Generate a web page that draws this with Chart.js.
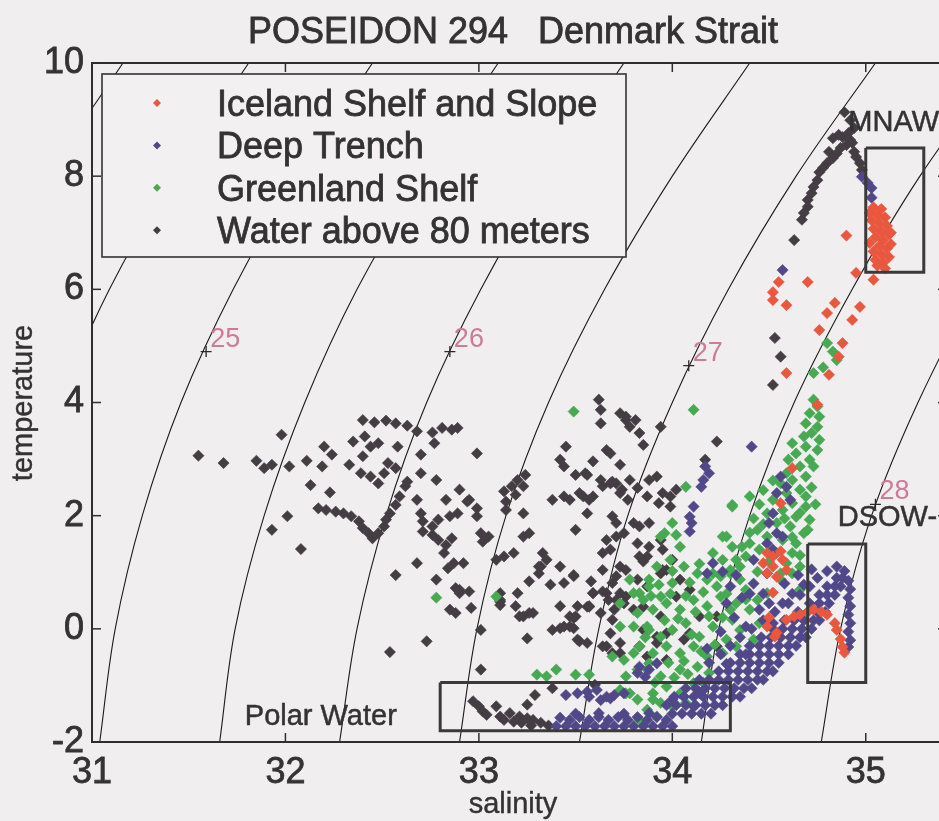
<!DOCTYPE html>
<html>
<head>
<meta charset="utf-8">
<title>POSEIDON 294 Denmark Strait</title>
<script src="https://cdn.jsdelivr.net/npm/chart.js@4/dist/chart.umd.min.js"></script>
<style>
  html, body { margin: 0; padding: 0; background: #f0eeee; overflow: hidden; }
  canvas { display: block; }
</style>
</head>
<body>
<canvas id="ts" width="960" height="821"></canvas>
<script>
// ---- axes ----
const salinityTicks = [31, 32, 33, 34, 35];
const temperatureTicks = [-2, 0, 2, 4, 6, 8, 10];

// ---- isopycnals (sigma-t), salinity at each temperature ----
const sigmaLevels = [24, 24.5, 25, 25.5, 26, 26.5, 27, 27.5, 28];
const isopycnalTemps = [-2, 0, 2, 4, 6, 8, 10];
const isopycnalSalinity = [
  [29.80, 29.87, 30.00, 30.19, 30.45, 30.77, 31.16],
  [30.42, 30.49, 30.63, 30.83, 31.09, 31.42, 31.81],
  [31.04, 31.12, 31.26, 31.46, 31.73, 32.06, 32.45],
  [31.66, 31.74, 31.89, 32.10, 32.37, 32.71, 33.10],
  [32.28, 32.37, 32.52, 32.73, 33.01, 33.35, 33.75],
  [32.90, 32.99, 33.14, 33.36, 33.65, 34.00, 34.40],
  [33.52, 33.62, 33.77, 34.00, 34.29, 34.64, 35.05],
  [34.15, 34.24, 34.40, 34.63, 34.93, 35.28, 35.70],
  [34.77, 34.87, 35.03, 35.27, 35.57, 35.92, 36.35]
];
const labelledLevels = [25, 26, 27, 28];
const labelAnchors = [[31.59, 4.90], [32.85, 4.90], [34.085, 4.65], [35.05, 2.20]];

// ---- water mass boxes: [S min, S max, T min, T max] ----
const polarWaterBox = [32.8, 34.3, -1.8, -0.95];
const dsowBox = [34.7, 35.0, -0.95, 1.5];
const mnawBox = [35.0, 35.3, 6.3, 8.5];

// ---- observations [salinity, temperature] ----
const icelandShelf = [
  [35.04,7.45],[35.08,7.42],[35.02,7.35],[35.06,7.32],[35.10,7.27],[35.03,7.22],[35.07,7.17],[35.11,7.12],
  [35.04,7.07],[35.08,7.02],[35.12,6.97],[35.05,6.92],[35.09,6.87],[35.02,6.82],[35.07,6.77],[35.11,6.72],
  [35.04,6.67],[35.08,6.62],[35.12,6.57],[35.05,6.52],[35.09,6.47],[35.06,6.42],[35.10,6.37],[35.13,7.00],[35.13,6.80],
  [35.04,6.17],[34.95,6.29],[34.90,6.95],[34.70,6.13],[34.55,6.13],[34.52,5.95],[34.52,5.81],[34.59,5.72],
  [34.84,5.76],[34.97,5.69],[34.80,5.58],[34.93,5.46],[34.76,5.28],[34.88,5.05],[34.86,4.81],[34.81,4.49],
  [34.59,4.52],[34.75,3.96],[34.62,2.84],[34.56,2.22],
  [34.49,1.34],[34.52,1.28],[34.56,1.37],[34.57,1.22],[34.47,1.16],[34.52,1.10],[34.59,1.04],[34.49,0.98],[34.54,0.92],
  [34.52,0.64],[34.49,0.04],[34.54,-0.07],[34.50,0.20],[34.53,-0.14],
  [34.59,0.16],[34.63,0.22],[34.66,0.25],[34.70,0.30],[34.73,0.34],[34.77,0.30],[34.80,0.25],
  [34.84,0.10],[34.85,-0.02],[34.87,-0.18],[34.88,-0.32],[34.89,-0.42]
];

const deepTrench = [
  [33.40,-1.72],[33.45,-1.72],[33.50,-1.72],[33.55,-1.72],[33.60,-1.72],[33.65,-1.72],[33.70,-1.72],
  [33.75,-1.72],[33.80,-1.72],[33.85,-1.72],[33.90,-1.72],[33.95,-1.72],[34.00,-1.72],
  [33.42,-1.57],[33.47,-1.61],[33.52,-1.56],[33.57,-1.61],[33.62,-1.56],[33.67,-1.61],[33.72,-1.56],
  [33.77,-1.61],[33.82,-1.56],[33.87,-1.61],[33.92,-1.56],[33.97,-1.61],
  [33.50,-1.50],[33.62,-1.49],[33.75,-1.50],[33.88,-1.49],
  [34.00,-1.50],[34.05,-1.50],[34.10,-1.50],[34.15,-1.50],[34.20,-1.50],
  [34.02,-1.35],[34.07,-1.35],[34.12,-1.35],[34.17,-1.35],[34.22,-1.35],[34.26,-1.35],
  [34.06,-1.20],[34.11,-1.20],[34.16,-1.20],[34.21,-1.20],[34.26,-1.20],[34.31,-1.20],[34.35,-1.20],
  [34.12,-1.05],[34.17,-1.05],[34.22,-1.05],[34.27,-1.05],[34.32,-1.05],[34.37,-1.05],[34.41,-1.05],
  [34.19,-0.90],[34.24,-0.90],[34.29,-0.90],[34.34,-0.90],[34.39,-0.90],[34.44,-0.90],[34.47,-0.90],
  [34.24,-0.75],[34.29,-0.75],[34.34,-0.75],[34.39,-0.75],[34.44,-0.75],[34.49,-0.75],[34.52,-0.75],
  [34.30,-0.60],[34.35,-0.60],[34.40,-0.60],[34.45,-0.60],[34.50,-0.60],[34.55,-0.60],
  [34.35,-0.45],[34.40,-0.45],[34.45,-0.45],[34.50,-0.45],[34.55,-0.45],[34.60,-0.45],
  [34.40,-0.30],[34.45,-0.30],[34.50,-0.30],[34.55,-0.30],[34.60,-0.30],[34.64,-0.30],
  [34.46,-0.15],[34.51,-0.15],[34.56,-0.15],[34.61,-0.15],[34.66,-0.15],[34.69,-0.15],
  [34.52,0.00],[34.57,0.00],[34.62,0.00],[34.67,0.00],[34.72,0.00],
  [34.58,0.15],[34.63,0.15],[34.68,0.15],[34.73,0.15],[34.76,0.15],
  [34.65,0.30],[34.70,0.30],[34.75,0.30],[34.79,0.30],
  [34.71,0.45],[34.76,0.45],[34.81,0.45],
  [34.76,0.60],[34.80,0.60],[34.84,0.60],
  [34.80,0.75],[34.84,0.75],[34.87,0.75],
  [34.85,0.90],[34.88,0.90],[34.89,1.02],
  [33.97,-1.35],[34.01,-1.20],[34.07,-1.05],[34.14,-0.90],[34.19,-0.60],[34.25,-0.45],[34.30,-0.30],
  [34.35,-0.15],[34.41,0.00],[34.47,0.15],[34.53,0.30],[34.60,0.45],[34.66,0.60],[34.71,0.75],[34.75,0.90],
  [34.80,1.02],[34.85,1.10],
  [34.25,-0.05],[34.32,0.20],[34.18,-0.35],[34.40,0.62],[34.50,0.45],[34.62,0.62],[34.68,0.78],[34.58,0.80],
  [34.72,1.05],[34.65,0.95],[34.38,-0.45],[34.28,-0.62],
  [34.91,0.85],[34.92,0.70],[34.91,0.55],[34.92,0.40],[34.91,0.25],[34.92,0.10],[34.91,-0.05],[34.92,-0.20],[34.91,-0.32],
  [34.17,2.87],[34.19,2.75],[34.16,2.63],[34.15,2.51],[34.11,2.16],[34.09,1.98],[34.10,1.87],[34.09,1.72],
  [34.56,2.69],[34.59,2.51],[34.54,2.40],[34.61,2.28],[34.52,2.04],[34.50,1.87],[34.54,1.69],[34.49,1.51],
  [34.52,1.40],[34.57,1.63],[34.42,1.22],[34.49,0.98],[34.21,1.16],[34.18,0.98],[34.26,1.01],[34.41,3.22],
  [34.38,0.04],[34.45,0.34],[34.52,0.10],[34.57,0.45],[34.30,0.75],[34.36,0.55],[34.42,0.80],[34.28,0.45],
  [34.47,0.62],[34.33,0.95],
  [33.83,-0.67],[33.88,-0.72],[33.92,-0.61],[34.00,-1.25],[34.06,-1.20],[34.11,-1.37],[34.14,-1.14],
  [33.45,-1.17],[33.51,-1.14],[33.56,-1.11],[33.61,-1.08],[33.66,-1.20],[33.70,-1.17],[33.75,-1.14],
  [33.57,-1.20],[33.63,-1.26],[33.68,-1.23],[33.82,-0.78],[33.86,-0.85],
  [34.98,7.99],[35.01,7.88],[35.03,7.79],[35.03,7.62],[34.57,6.34]
];

const greenlandShelf = [
  [34.73,4.05],[34.75,3.93],[34.71,3.81],[34.76,3.75],[34.69,3.63],[34.75,3.57],[34.72,3.46],[34.68,3.40],
  [34.76,3.34],[34.62,3.28],[34.69,3.22],[34.75,3.16],[34.64,3.10],[34.71,2.99],[34.60,2.99],[34.66,2.87],
  [34.73,2.87],[34.59,2.75],[34.69,2.69],[34.62,2.63],[34.56,2.57],[34.66,2.46],[34.59,2.40],[34.69,2.34],
  [34.52,2.28],[34.62,2.22],[34.69,2.16],[34.57,2.10],[34.49,2.04],[34.64,1.98],[34.71,1.93],[34.54,1.87],
  [34.61,1.81],[34.44,1.75],[34.68,1.69],[34.49,1.63],[34.57,1.57],[34.40,1.51],[34.64,1.51],[34.45,1.40],
  [34.54,1.34],[34.62,1.34],[34.38,1.28],[34.50,1.19],[34.59,1.16],[34.35,1.10],[34.66,1.10],[34.44,1.01],
  [34.56,0.98],[34.30,0.98],[34.26,1.22],[34.31,1.45],[34.40,2.34],[34.31,2.16],[34.28,1.63],[34.21,1.34],
  [34.11,3.87],[34.07,2.51],[34.00,1.87],[33.94,1.63],[34.04,1.45],[33.99,1.22],[33.92,1.10],
  [34.47,2.45],[34.52,2.62],[34.45,2.20],[34.42,1.95],[34.40,1.70],[34.36,1.45],[34.33,1.22],[34.47,1.85],
  [34.58,1.95],[34.66,2.05],[34.72,2.50],[34.74,2.20],[34.70,1.75],[34.66,1.30],[34.62,1.62],
  [34.06,1.10],[34.13,0.98],[34.18,0.87],[34.25,0.93],[34.30,1.04],[34.35,0.87],[34.38,0.69],[34.00,0.81],
  [33.94,0.57],[33.88,0.87],[33.83,0.63],[33.90,0.34],[33.97,0.45],[34.04,0.34],[34.11,0.51],[34.18,0.40],
  [34.25,0.57],[34.30,0.34],[34.33,0.45],[34.40,0.34],[34.44,0.51],[34.49,0.63],[34.56,0.87],[34.62,0.98],
  [34.66,0.69],[33.87,0.04],[33.94,-0.14],[34.00,-0.02],[34.07,0.10],[34.14,-0.14],[34.21,0.04],[34.28,-0.19],
  [34.35,-0.02],[34.42,-0.19],[34.45,0.10],[33.83,-0.31],[33.90,-0.43],[33.97,-0.31],[34.04,-0.43],[34.11,-0.31],
  [34.18,-0.49],[34.26,-0.43],[34.33,-0.31],[33.87,-0.72],[33.94,-0.84],[34.04,-0.72],[34.13,-0.67],[34.19,-0.78],
  [33.90,-1.14],[33.97,-1.02],[34.04,-1.14],[34.11,-0.96],[34.00,-1.37],[33.94,-1.31],[34.07,-1.31],[33.87,-1.43],
  [33.83,-1.61],[33.92,-1.55],
  [34.09,0.82],[34.16,0.65],[34.23,0.75],[34.28,0.62],[34.21,0.98],[34.14,1.15],[34.00,1.02],[33.93,0.78],
  [34.07,0.58],[33.99,0.62],[34.26,0.20],[34.19,0.22],[34.12,0.30],[33.96,0.15],[34.03,0.18],[33.89,0.58],
  [34.38,0.52],[34.31,0.16],[33.98,-0.60],[34.06,-0.57],[34.15,-0.40],[34.22,-0.28],[33.91,-0.95],[34.01,-0.86],
  [34.08,-0.80],[34.16,-0.95],[33.86,-0.15],[34.10,-0.10],
  [33.69,-0.49],[33.73,0.04],[33.80,0.04],[33.88,-0.02],[33.75,-0.55],[33.80,-0.43],[33.76,-0.84],[33.82,-0.72],
  [33.88,-0.61],[33.76,-1.14],[33.82,-1.25],[33.90,-1.25],[33.73,0.45],[33.80,0.63],[33.85,0.51],[33.78,0.87],
  [33.88,0.75],[33.82,0.28],
  [34.80,5.05],[34.83,4.90],[34.85,4.75],[34.78,4.62],[34.73,4.52],[33.49,3.84],[32.78,0.55],[33.09,0.57],
  [33.30,-0.81],[33.35,-0.84],[33.40,-0.72],[33.50,-0.81],[33.57,-0.81],[33.73,-1.08],[33.78,-1.14],
  [34.31,2.19],[34.26,1.63],[33.96,1.69],[34.02,1.66]
];

const waterAbove80m = [
  [31.55,3.06],[31.68,2.93],[31.85,2.97],[31.89,2.84],[31.93,2.90],[31.98,3.43],[32.02,2.87],[32.01,1.99],
  [31.93,1.75],[32.08,1.41],[32.11,2.97],[32.20,3.22],[32.24,3.08],[32.13,2.54],[32.23,2.41],[32.19,2.87],
  [32.40,3.69],[32.46,3.65],[32.52,3.68],[32.57,3.63],[32.63,3.59],[32.68,3.49],[32.76,3.47],[32.81,3.55],
  [32.86,3.52],[32.89,3.55],[32.35,3.31],[32.41,3.40],[32.44,3.22],[32.48,3.28],[32.40,3.05],[32.33,2.90],
  [32.39,2.75],[32.44,2.69],[32.53,2.93],[32.58,3.22],[32.48,2.57],[32.51,2.75],[32.57,2.84],[32.70,3.08],
  [32.77,3.28],[32.78,2.63],[32.70,2.75],[32.99,3.10],[32.90,2.46],[32.83,2.28],[32.95,2.28],[32.99,2.13],
  [32.17,2.13],[32.21,2.10],[32.26,2.07],[32.30,2.04],[32.34,1.99],[32.38,1.90],[32.40,1.78],[32.43,1.69],
  [32.45,1.60],[32.48,1.69],[32.51,1.81],[32.52,1.93],[32.54,2.04],[32.57,2.19],[32.59,2.34],[32.62,2.52],
  [32.63,2.60],[32.68,2.28],[32.70,2.04],[32.71,1.90],[32.71,1.72],[32.76,1.66],[32.79,1.57],[32.83,1.48],
  [32.86,1.60],[32.76,1.81],[32.79,1.93],[32.85,1.99],[32.89,2.04],[32.94,2.25],[32.99,1.99],[33.01,1.69],
  [33.05,1.63],[33.02,1.54],[32.82,1.34],[32.87,1.16],[32.92,1.16],[32.68,1.16],[32.57,0.95],[32.78,0.87],
  [32.84,1.07],[32.90,0.69],
  [33.13,2.43],[33.17,2.52],[33.20,2.63],[33.23,2.52],[33.24,2.72],[33.19,2.37],[33.14,2.25],[33.14,2.10],
  [33.23,2.04],[33.26,1.69],[33.23,1.63],[33.13,1.28],[33.18,1.34],[33.09,1.22],[33.33,1.34],[33.35,1.22],
  [33.32,1.10],[33.38,2.28],[33.44,2.34],[33.47,2.28],[33.52,2.40],[33.44,2.87],[33.45,3.22],[33.50,2.72],
  [33.56,2.72],[33.59,2.96],[33.62,4.05],[33.63,3.87],[33.63,3.63],[33.68,3.10],[33.71,2.57],[33.74,2.46],
  [33.76,3.69],[33.73,3.81],[33.42,2.99],[33.42,1.10],[33.49,0.93],[33.50,1.75],[33.56,2.04],[33.57,2.28],
  [33.64,2.52],[33.68,2.57],[33.69,1.99],[33.71,1.87],[33.75,1.69],[33.68,1.40],[33.64,1.34],[33.64,1.04],
  [33.71,0.93],[33.66,0.63],[33.57,0.40],[33.50,0.22],[33.42,0.40],[33.26,0.28],[33.23,0.22],[33.19,0.40],
  [33.11,0.51],[32.88,0.28],[32.85,0.34],
  [33.76,3.75],[33.81,3.69],[33.78,3.57],[33.83,3.46],[33.85,3.25],[33.66,3.16],[33.73,2.90],[33.55,2.75],
  [33.63,2.63],[33.69,2.60],[33.78,2.63],[33.82,2.49],[33.88,2.63],[33.92,2.69],[33.54,2.34],[33.59,2.34],
  [33.73,2.40],[33.77,2.28],[33.87,2.34],[33.95,2.40],[33.99,2.34],[34.02,2.46],[33.93,2.22],[33.99,2.16],
  [33.80,1.87],[33.83,1.81],[33.88,1.87],[33.66,1.57],[33.71,1.63],[33.82,1.51],[33.88,1.45],[33.94,1.57],
  [33.83,1.28],[33.87,1.28],[33.85,1.19],[33.95,1.40],[33.97,1.04],[34.00,1.22],[34.04,0.87],[33.73,1.10],
  [33.76,1.04],[33.82,0.87],[33.87,0.75],[33.94,0.98],[33.59,0.63],[33.71,0.51],[33.76,0.57],[33.56,0.39],
  [33.63,0.28],[33.69,0.16],[33.80,0.34],[33.85,0.39],[33.68,-0.08],[33.73,-0.25],[33.64,-0.31],[33.87,-0.02],
  [33.83,-0.31],[33.92,-0.14],[33.97,-0.08],
  [34.23,3.31],[34.17,2.99],[33.94,3.57],
  [32.88,0.72],[32.90,0.63],[32.95,0.66],[32.96,0.37],[32.73,-0.22],[33.01,-0.02],[33.11,0.63],[33.11,0.48],
  [33.20,0.63],[33.21,0.22],[33.28,0.28],[33.25,-0.17],[33.26,0.84],[33.31,1.10],[33.31,0.98],[33.37,0.78],
  [33.44,0.81],[33.49,0.95],[33.42,0.01],[33.47,0.04],[33.47,0.22],[33.49,0.01],[33.51,-0.19],[33.56,-0.25],
  [33.51,0.40],[33.58,0.84],[33.59,0.63],[33.64,0.66],[33.69,0.81],[33.73,0.63],[33.75,0.45],[33.70,0.34],
  [33.67,0.51],[33.66,-0.31],[33.69,-0.43],[33.73,-0.43],[33.01,-0.72],[33.38,-1.05],[33.29,-1.17],[33.25,-1.34],
  [33.60,-0.99],
  [32.97,-1.28],[33.00,-1.37],[33.02,-1.46],[33.09,-1.37],[33.11,-1.55],[33.16,-1.49],[33.18,-1.64],[33.13,-1.61],
  [33.21,-1.55],[33.25,-1.58],[33.28,-1.61],[33.22,-1.66],[33.27,-1.71],[33.32,-1.66],[33.36,-1.71],[33.04,-1.52],
  [33.11,0.42],[33.38,-0.02],[33.44,0.04],[33.49,0.19],[33.52,-0.22],[33.57,0.39],[32.54,-0.41],
  [33.95,1.04],[34.02,0.57],[34.09,0.69],[33.94,0.22],[34.14,0.22],[34.23,0.22],[33.85,-0.02],[34.09,-0.08],
  [34.06,-0.19],[34.23,-0.31],[33.97,-0.55],[33.87,-0.49],[33.92,-0.25],
  [34.52,4.31],[34.56,4.81],[34.53,5.14],[34.63,6.87],[34.67,7.23],[34.68,7.35],[34.70,7.46],[34.70,7.58],
  [34.72,7.70],[34.73,7.81],[34.75,7.93],[34.76,8.07],[34.78,8.15],[34.80,8.23],[34.83,8.32],[34.81,8.43],
  [34.85,8.40],[34.87,8.50],[34.83,8.67],[34.86,8.73],[34.88,8.69],[34.91,8.76],[34.92,8.64],[34.93,8.59],
  [34.90,8.55],[34.94,8.43],[34.95,8.34],[34.97,8.23],[34.98,8.11],[34.89,9.13],[34.92,8.99],[34.94,8.85]
];

// ---- styling ----
const FONT = '"Liberation Sans", Arial, Helvetica, sans-serif';
const INK = '#333333';
const PAGE = '#f0eeee';

const toXY = pts => pts.map(([s, t]) => ({ x: s, y: t }));
const boxPath = ([s0, s1, t0, t1]) => [
  { x: s0, y: t1 }, { x: s1, y: t1 }, { x: s1, y: t0 }, { x: s0, y: t0 }, { x: s0, y: t1 }
];

const markerSets = [
  { label: 'Iceland Shelf and Slope', data: icelandShelf, color: '#e9573f', order: 1 },
  { label: 'Deep Trench', data: deepTrench, color: '#514889', order: 2 },
  { label: 'Greenland Shelf', data: greenlandShelf, color: '#47aa53', order: 3 },
  { label: 'Water above 80 meters', data: waterAbove80m, color: '#443d43', order: 4 }
];

const contourSets = sigmaLevels.map((lvl, i) => ({
  label: 'sigma ' + lvl,
  data: isopycnalTemps.map((t, j) => ({ x: isopycnalSalinity[i][j], y: t })),
  showLine: true, pointRadius: 0, borderColor: '#1c1c1c', borderWidth: 1.1,
  tension: 0.35, order: 10
}));

const boxSets = [polarWaterBox, dsowBox, mnawBox].map((b, i) => ({
  label: 'box ' + i, data: boxPath(b), showLine: true, pointRadius: 0,
  borderColor: '#3a3a3a', borderWidth: 3, tension: 0, order: 0
}));

const crossSet = {
  label: 'contour labels', data: toXY(labelAnchors), pointStyle: 'cross',
  pointRadius: 5.5, borderColor: '#2a2a2a', borderWidth: 1.3, order: 0
};

const pointSets = markerSets.map(m => ({
  label: m.label, data: toXY(m.data), pointStyle: 'rectRot', pointRadius: 5.6,
  borderWidth: 0.6, backgroundColor: m.color, borderColor: m.color, order: m.order
}));

function line(ctx, x0, y0, x1, y1) {
  ctx.beginPath(); ctx.moveTo(x0, y0); ctx.lineTo(x1, y1); ctx.stroke();
}

// filled text with a thin outline, for the heavier print look
function inkText(ctx, text, x, y, w) {
  ctx.fillText(text, x, y);
  ctx.lineWidth = w;
  ctx.strokeStyle = ctx.fillStyle;
  ctx.strokeText(text, x, y);
}

const decor = {
  id: 'decor',
  beforeDraw(chart) {
    const { ctx, width, height } = chart;
    ctx.save(); ctx.fillStyle = PAGE; ctx.fillRect(0, 0, width, height); ctx.restore();
  },
  afterDatasetsDraw(chart) {
    const { ctx, chartArea: a, scales: { x, y } } = chart;
    ctx.save();
    // frame and inward ticks
    ctx.strokeStyle = '#2e2e2e';
    ctx.lineWidth = 2;
    ctx.strokeRect(a.left, a.top, a.right - a.left, a.bottom - a.top);
    ctx.lineWidth = 1.5;
    salinityTicks.forEach(v => {
      const px = x.getPixelForValue(v);
      line(ctx, px, a.bottom, px, a.bottom - 9);
      line(ctx, px, a.top, px, a.top + 9);
    });
    temperatureTicks.forEach(v => {
      const py = y.getPixelForValue(v);
      line(ctx, a.left, py, a.left + 9, py);
      line(ctx, a.right, py, a.right - 9, py);
    });

    // isopycnal labels
    ctx.fillStyle = '#cc7b98';
    ctx.font = '27px ' + FONT;
    ctx.textAlign = 'left';
    ctx.textBaseline = 'alphabetic';
    labelledLevels.forEach((lvl, i) => {
      const px = x.getPixelForValue(labelAnchors[i][0]);
      const py = y.getPixelForValue(labelAnchors[i][1]);
      ctx.fillText(String(lvl), px + 4, py - 5);
    });

    // water mass names
    ctx.fillStyle = INK;
    ctx.font = '29px ' + FONT;
    inkText(ctx, 'Polar Water', x.getPixelForValue(31.79), y.getPixelForValue(-1.52) + 10, 0.5);
    inkText(ctx, 'MNAW', x.getPixelForValue(34.91), y.getPixelForValue(8.98) + 10, 0.5);
    inkText(ctx, 'DSOW-', x.getPixelForValue(34.855), y.getPixelForValue(2.0) + 10, 0.5);

    // legend
    const L = { left: 102, top: 74, right: 626, bottom: 257 };
    ctx.fillStyle = '#f2f0f0';
    ctx.fillRect(L.left, L.top, L.right - L.left, L.bottom - L.top);
    ctx.strokeStyle = '#333';
    ctx.lineWidth = 1.6;
    ctx.strokeRect(L.left, L.top, L.right - L.left, L.bottom - L.top);
    ctx.font = '36px ' + FONT;
    markerSets.forEach((m, i) => {
      const cy = 103 + i * 42.4;
      ctx.fillStyle = m.color;
      ctx.beginPath();
      ctx.moveTo(157, cy - 4); ctx.lineTo(161, cy); ctx.lineTo(157, cy + 4); ctx.lineTo(153, cy);
      ctx.closePath(); ctx.fill();
      ctx.fillStyle = INK;
      inkText(ctx, m.label, 217, cy + 13, 0.8);
    });
    ctx.restore();
  },
  afterDraw(chart) {
    const { ctx } = chart;
    ctx.save();
    ctx.fillStyle = INK;
    ctx.textBaseline = 'alphabetic';
    ctx.textAlign = 'center';
    ctx.font = '36px ' + FONT;
    inkText(ctx, 'POSEIDON 294   Denmark Strait', 513, 43, 0.8);
    ctx.font = '29px ' + FONT;
    inkText(ctx, 'salinity', 513, 813, 0.4);
    ctx.translate(32, 403);
    ctx.rotate(-Math.PI / 2);
    inkText(ctx, 'temperature', 0, 0, 0.4);
    ctx.restore();
  }
};

const tickStyle = {
  font: { family: FONT, size: 36 }, color: INK,
  textStrokeColor: INK, textStrokeWidth: 0.8
};

new Chart(document.getElementById('ts'), {
  type: 'scatter',
  data: { datasets: [...contourSets, ...pointSets, ...boxSets, crossSet] },
  options: {
    responsive: false,
    animation: false,
    events: [],
    devicePixelRatio: 1,
    layout: { padding: { top: 63, right: 13, left: 0, bottom: 0 } },
    plugins: { legend: { display: false }, tooltip: { enabled: false }, title: { display: false } },
    scales: {
      x: {
        type: 'linear', min: 31, max: 35.42,
        grid: { display: false }, border: { display: false },
        ticks: { ...tickStyle, padding: 1, maxRotation: 0 },
        afterBuildTicks: s => { s.ticks = salinityTicks.map(v => ({ value: v })); },
        afterFit: s => { s.height = 79; }
      },
      y: {
        type: 'linear', min: -2, max: 10,
        grid: { display: false }, border: { display: false },
        ticks: { ...tickStyle, padding: 0 },
        afterBuildTicks: s => { s.ticks = temperatureTicks.map(v => ({ value: v })); },
        afterFit: s => { s.width = 92; }
      }
    }
  },
  plugins: [decor]
});
</script>
</body>
</html>
